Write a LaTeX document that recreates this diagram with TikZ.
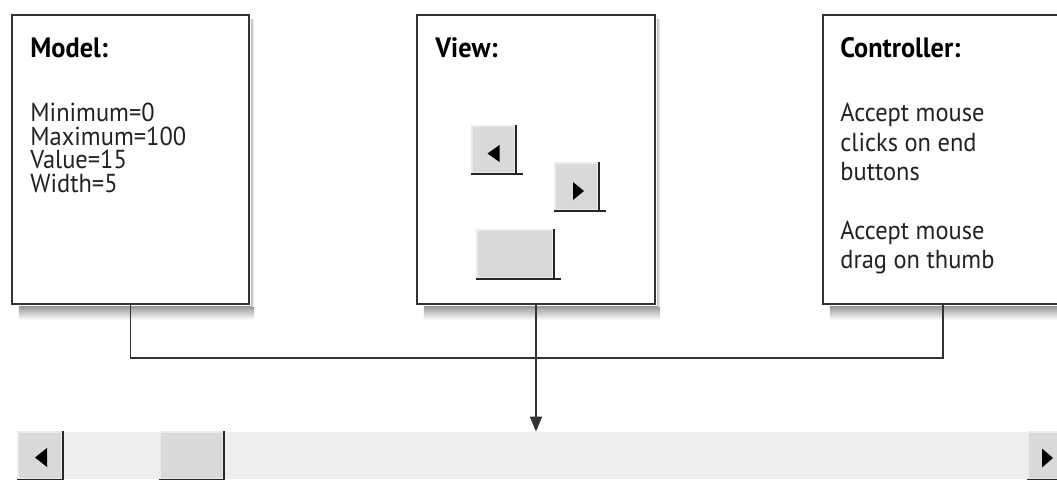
\documentclass[tikz,border=0pt]{standalone}
\usepackage{fontspec}
\setmainfont{PT Sans}[FakeStretch=0.94]
\usetikzlibrary{arrows.meta}
\definecolor{boxline}{HTML}{333333}
\definecolor{btngray}{HTML}{D9D9D9}
\definecolor{trackgray}{HTML}{EEEEEE}
\definecolor{textgray}{HTML}{222222}
\begin{document}
\begin{tikzpicture}[x=0.5pt, y=-0.5pt,
    panel/.style={draw=boxline, line width=1.1pt, fill=white, inner sep=0pt, minimum height=144.5pt},
    btn/.style={draw=white!92!black, line width=0.8pt, fill=btngray, inner sep=0pt, minimum width=21.5pt, minimum height=23.5pt},
    btnedge/.style={draw=black!85, line width=1.3pt},
    title/.style={anchor=base west, inner sep=0pt, font=\bfseries\fontsize{14}{14}\selectfont},
    body/.style={anchor=north west, inner sep=0pt, align=left, text=textgray},
    wire/.style={draw=boxline, line width=0.9pt}]
  \clip (0,0) rectangle (1057,479);
  \fill[white] (0,0) rectangle (1057,479);

  \node[panel, minimum width=118.5pt] (model) at (130.5,159.5) {};
  \node[panel, minimum width=119pt] (view) at (536,159.5) {};
  \node[panel, minimum width=120pt] (ctrl) at (943,159.5) {};
  \foreach \n in {model,view,ctrl} {
    \shade[top color=gray!80, bottom color=white] ([xshift=4pt,yshift=-0.55pt]\n.south west) rectangle ([xshift=2pt,yshift=-7.5pt]\n.south east);
    \shade[left color=gray!50, right color=white] ([xshift=0.55pt,yshift=-3pt]\n.north east) rectangle ([xshift=2pt,yshift=-0.55pt]\n.south east);
  }

  \node[title] (modeltitle) at (30,57) {Model:};
  \node[title] (viewtitle) at (435,57) {View:};
  \node[title] (ctrltitle) at (840,57) {Controller:};

  \node[body, font=\fontsize{13}{11.7}\selectfont] (modeltxt) at (30,103) {Minimum=0\\Maximum=100\\Value=15\\Width=5};
  \node[body, font=\fontsize{13}{14.7}\selectfont] (ctrltxt) at (840,103) {Accept mouse\\clicks on end\\buttons\\[14.7pt]Accept mouse\\drag on thumb};

  \node[btn] (lb) at (493.5,149.5) {};
  \node[btn] (rb) at (576.5,186.5) {};
  \node[btn, minimum width=38pt, minimum height=24pt] (th) at (515,254) {};
  \foreach \b in {lb,rb,th} {
    \draw[btnedge] (\b.north east) -- (\b.south east);
    \draw[btnedge] (\b.south west) -- ([xshift=3.5pt]\b.south east);
  }
  \fill[black] ([shift={(-6,4)}]lb.center) -- ++(12,-8.5) -- ++(0,17) -- cycle;
  \fill[black] ([shift={(-3.5,-4.5)}]rb.center) -- ++(0,18) -- ++(11,-9) -- cycle;

  \node[fill=trackgray, inner sep=0pt, minimum width=527pt, minimum height=23.5pt] (bar) at (545,455.5) {};
  \node[btn, minimum width=22pt] (sleft) at (40,455.5) {};
  \node[btn, minimum width=31.5pt] (sthumb) at (191.5,455.5) {};
  \node[btn, minimum width=22pt] (sright) at (1050,455.5) {};
  \foreach \b in {sleft,sthumb,sright} {
    \draw[btnedge] (\b.north east) -- (\b.south east);
    \draw[btnedge] (\b.south west) -- (\b.south east);
  }
  \fill[black] ([shift={(-5,2)}]sleft.center) -- ++(12,-9.5) -- ++(0,19) -- cycle;
  \fill[black] ([shift={(-8,-7)}]sright.center) -- ++(0,19) -- ++(11,-9.5) -- cycle;

  \draw[wire] (model.south) -- ++(0,53) -| (ctrl.south);
  \draw[wire, -{Triangle[length=7.5pt,width=6pt]}] (view.south) -- (view.south |- bar.north);
\end{tikzpicture}
\end{document}
